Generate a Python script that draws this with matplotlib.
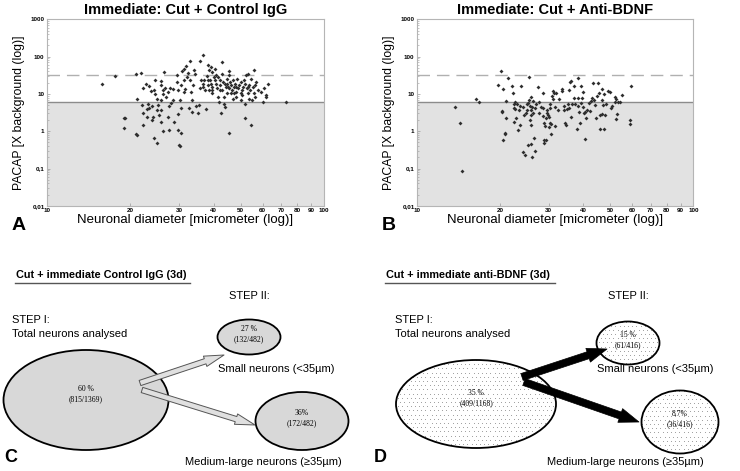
import numpy as np
import matplotlib
matplotlib.use("Agg")
import matplotlib.pyplot as plt
from matplotlib.patches import Ellipse
from matplotlib.ticker import FixedLocator, NullFormatter, FuncFormatter

plt.rcParams['font.family'] = ['Liberation Sans', 'DejaVu Sans']

# panel A : control IgG (diameter um, PACAP x background)
a_diam = [15.8, 17.6, 21, 21.8, 21.1, 22, 19, 19.1, 19, 21, 21.1, 22.3, 22.2, 22.3, 22.8,
          23.3, 23.8, 24.3, 23.4, 23, 23.1, 24, 23, 24, 24.2, 24.6, 24.3, 24.9, 24.6, 25,
          25.2, 25, 25.5, 25.9, 25.9, 26.3, 26.3, 25.9, 25.8, 25.8, 26.3, 26.5, 26.8, 27,
          27.4, 27.8, 27.6, 27.3, 27.5, 28, 28.5, 28.6, 28.8, 29.4, 29.6, 29.8, 29.8, 29.7,
          30, 30.2, 30.2, 30.4, 30.5, 30.5, 30.8, 31.2, 31.2, 31.2, 31.6, 31.9, 32, 32.4,
          32.8, 32.8, 33, 33.3, 32.6, 33.3, 33.7, 34, 34.2, 34.5, 35, 35.3, 35.6, 35.8,
          36.5, 36.6, 37, 37.3, 37.6, 37.8, 38, 38.3, 38.4, 38.6, 38.8, 39, 39, 39.4, 39.6,
          39.6, 40, 40.3, 40.6, 40.8, 41, 41.4, 41.4, 41.8, 42, 42.3, 42.7, 43, 43, 43.2,
          43.5, 43.5, 43.8, 42.6, 44.2, 44.5, 44.7, 44.8, 45.3, 45.3, 45.6, 45.6, 45.8,
          46.2, 46.4, 47, 47, 47.5, 47.8, 48, 48.3, 48.6, 49, 49.5, 50, 50.2, 50.3, 50.6,
          51, 51.3, 51.7, 51.7, 52, 52.5, 52.7, 53, 53.3, 53.5, 53.8, 54.2, 54.4, 54.7, 55,
          55.3, 55.7, 56, 56.5, 57, 58, 59, 60, 60.5, 61.7, 61.7, 63, 72.6,
          35.9, 36.6, 38, 39.3, 40.8, 42, 43.8, 45, 46.2, 48, 53, 50.6, 56.5, 47.5]
a_pacap = [18, 31, 34, 36, 7.5, 5, 2.2, 2.2, 1.25, 0.82, 0.8, 1.5, 3, 14, 19,
           16, 12, 12.6, 4.3, 3.9, 5.5, 4.7, 2.4, 2, 2.4, 24, 0.66, 0.47, 9.8, 7.2,
           5, 3.7, 2.7, 22, 17, 12.6, 10, 6.8, 3.6, 1.75, 1.0, 39, 14.8, 8.3,
           11.3, 14, 4.7, 2.4, 1.07, 5.7, 13.2, 6.8, 1.78, 32, 21, 12.6, 1.06, 2.9,
           0.44, 0.4, 6.8, 4.1, 0.9, 17.2, 41, 48, 23.4, 11.3, 13.2, 57, 28, 36,
           77, 23, 11.3, 6.8, 4.3, 3.3, 17, 43, 34, 4.7, 3, 5, 77, 14,
           19, 112, 23, 12.6, 3.9, 30, 59, 17.2, 43, 12.6, 23, 52, 19, 39, 15.5,
           10.3, 28, 48, 23, 19, 14, 28, 8.3, 6.2, 23, 17, 35, 70, 12.6, 21,
           8.3, 5.5, 4.5, 3, 15.5, 25, 19, 10.3, 41, 0.9, 32, 14, 21,
           17, 12.6, 24, 7.5, 15.5, 19, 11.3, 8.3, 25, 14, 17, 21, 10.3, 6.8, 12.6,
           15.5, 23, 5.5, 2.2, 19, 32, 14, 34, 10.3, 7.5, 17, 12.6, 1.45, 25, 6.8,
           15.5, 43, 10.3, 8.3, 21, 12.6, 11.3, 6.2, 14, 8.3, 9.3, 18, 5.9,
           23, 15.5, 23, 12.6, 32, 12.6, 19, 15.5, 10.3, 15.5, 15.5, 9.3, 17, 10.8]

# panel B : anti-BDNF
b_diam = [13.8, 14.3, 14.6, 16.4, 16.8, 19.7, 20.2, 20.3, 20.3, 20.5, 20.6, 20.8, 20.8, 21,
          21, 21.4, 22.2, 22.3, 22.4, 22.4, 22.5, 22.6, 22.7, 22.9, 23, 23.2, 23.4, 23.6,
          23.8, 23.7, 24.2, 24.3, 24.5, 24.6, 24.8, 25, 25.1, 25.2, 25.3, 25.4, 25.5, 25.7,
          25.7, 25.8, 25.9, 26, 26, 26, 26.1, 26.2, 26.3, 26.4, 26.6, 26.7, 26.8, 27, 27.5,
          27.6, 27.7, 28.2, 28.5, 28.6, 28.8, 28.6, 28.8, 28.9, 29.2, 29.3, 29.4, 29.6, 29.7,
          29.8, 30, 30.1, 30.3, 30.3, 30.4, 30.6, 30.7, 30.8, 31, 31.2, 31.3, 31.6, 31.7,
          31.8, 32.5, 32.8, 33.4, 33.6, 34, 34.2, 34.5, 34.6, 35, 35.2, 35.5, 35.6, 35.8, 36,
          36.2, 36.4, 36.9, 37, 37.3, 37.9, 38.2, 38.2, 38.4, 38.7, 38.9, 39.2, 39.4, 39.6,
          39.9, 40, 40.2, 40.5, 40.5, 41, 41.3, 41.8, 42.3, 42.8, 43.1, 43.3, 43.6, 44, 44.5,
          44.7, 45.2, 45.5, 45.8, 46.1, 46.6, 46.6, 46.8, 47, 47.4, 47.7, 48, 48.2, 49, 49.9,
          50.3, 50.6, 52.3, 52.7, 52.3, 52.7, 53, 53.4, 54.2, 55.3, 59, 59.2, 59.6]
b_pacap = [4.5, 1.7, 0.086, 7.4, 5.9, 17.8, 41, 3.5, 3.3, 13.5, 0.57, 0.9, 0.83, 6.5,
           2.3, 27.5, 15.9, 10.9, 5.5, 4.1, 1.78, 6.2, 3.9, 2.2, 5.3, 1.1, 3.6, 1.45,
           15.9, 4.7, 0.28, 4.5, 2.7, 0.23, 3.0, 5.5, 3.6, 5.7, 0.42, 29, 6.7, 4.7,
           1.95, 3.6, 8.5, 2.7, 1.45, 0.45, 0.21, 4.5, 3.0, 6.5, 0.67, 0.3, 4.1, 5.5, 15.3,
           5.9, 3, 4.5, 2.5, 4.1, 1.7, 10.9, 0.57, 0.48, 1.36, 2.3, 0.57, 3.6, 3.0,
           2.7, 2.4, 1.3, 4.1, 5.5, 1.7, 0.83, 1.6, 9.0, 12.3, 7.5, 10.9, 4.5, 1.36,
           10.4, 3.8, 7.2, 13.3, 12.3, 3.7, 4.7, 1.7, 1.5, 3.9, 5.4, 12.6, 4.1, 21, 22,
           2.4, 5.4, 16.5, 7.8, 5.4, 1.18, 27.5, 7.8, 4.7, 3.3, 1.7, 16.5, 5.8, 8,
           11.4, 4.5, 3.1, 0.6, 3.3, 2.3, 3.6, 5.8, 3.5, 6.5, 8, 20, 6.8, 5.1, 2.3,
           8.7, 20, 10.9, 1.18, 2.7, 13.3, 2.9, 6.8, 5.1, 1.18, 10, 2.7, 5.5, 12.3, 11.4,
           4.3, 4.7, 8.5, 7.5, 6.2, 2.1, 2.9, 6.2, 6.2, 9.5, 1.6, 1.97, 16.5]

bg_level = 5.9      # solid line (background threshold)
upper_level = 31.6  # dashed line

panel_titles = ["Immediate: Cut + Control IgG", "Immediate: Cut + Anti-BDNF"]
x_ticks = [10, 20, 30, 40, 50, 60, 70, 80, 90, 100]
y_ticks = [0.01, 0.1, 1, 10, 100, 1000]
y_tick_labels = ["0,01", "0,1", "1", "10", "100", "1000"]

# diagram texts (panels C and D)
diag_titles = ["Cut + immediate Control IgG (3d)", "Cut + immediate anti-BDNF (3d)"]
big_pct = [("60 %", "(815/1369)"), ("35 %", "(409/1168)")]
small_pct = [("27 %", "(132/482)"), ("15 %", "(61/416)")]
large_pct = [("36%", "(172/482)"), ("8.7%", "(36/416)")]

fig = plt.figure(figsize=(7.4, 4.71), dpi=100)

def scatter_panel(rect, xs, ys, title, letter):
    ax = fig.add_axes(rect)
    ax.set_xscale('log')
    ax.set_yscale('log')
    ax.set_xlim(10, 100)
    ax.set_ylim(0.01, 1000)
    ax.axhspan(0.01, bg_level, color='#e2e2e2', zorder=0, lw=0)
    ax.axhline(bg_level, color='#8c8c8c', lw=1.0, zorder=1)
    ax.axhline(upper_level, color='#b0b0b0', lw=1.0, dashes=(9, 5), zorder=1)
    ax.plot(xs, ys, ls='none', marker='D', ms=2.0, color='#2e2e2e', mew=0, zorder=3)
    for s in ax.spines.values():
        s.set_color('#b5b5b5')
        s.set_linewidth(0.8)
    ax.xaxis.set_major_locator(FixedLocator(x_ticks))
    ax.xaxis.set_minor_locator(FixedLocator([]))
    ax.xaxis.set_major_formatter(FuncFormatter(lambda v, p: "%d" % v))
    ax.xaxis.set_minor_formatter(NullFormatter())
    ax.yaxis.set_major_locator(FixedLocator(y_ticks))
    ax.set_yticklabels(y_tick_labels)
    ax.tick_params(axis='both', which='major', labelsize=4.5, length=2, width=0.5,
                   color='#999999', pad=1.5, direction='in')
    ax.tick_params(axis='y', which='minor', length=1.2, width=0.4, color='#999999',
                   direction='in')
    for lab in ax.get_xticklabels() + ax.get_yticklabels():
        lab.set_fontweight('bold')
    ax.set_xlabel("Neuronal diameter [micrometer (log)]", fontsize=9.5, labelpad=1)
    ax.set_ylabel("PACAP [X background (log)]", fontsize=8.8, labelpad=4)
    ax.set_title(title, fontsize=10.5, fontweight='bold', pad=4)
    fig.text(rect[0] - 0.047, 0.521, letter, fontsize=14, fontweight='bold',
             ha='left', va='center')

scatter_panel([0.063, 0.563, 0.375, 0.396], a_diam, a_pacap, panel_titles[0], "A")
scatter_panel([0.563, 0.563, 0.374, 0.396], b_diam, b_pacap, panel_titles[1], "B")

# overlay in pixel-like coordinates for the flow diagrams
ov = fig.add_axes([0, 0, 1, 1])
ov.set_xlim(0, 740)
ov.set_ylim(471, 0)
ov.axis('off')

def ellipse(cx, cy, w, h, dotted):
    if dotted:
        e = Ellipse((cx, cy), w, h, facecolor='white', edgecolor='none', zorder=2)
        ov.add_patch(e)
        # fine stipple clipped to the ellipse
        gy = np.arange(cy - h / 2, cy + h / 2, 4.2)
        px, py = [], []
        for k, yy in enumerate(gy):
            off = 2.1 if k % 2 else 0.0
            gx = np.arange(cx - w / 2 + off, cx + w / 2, 4.2)
            px.extend(gx)
            py.extend([yy] * len(gx))
        dots = ov.scatter(px, py, s=0.35, color='#8a8a8a', lw=0, zorder=2.5)
        dots.set_clip_path(e)
        ov.add_patch(Ellipse((cx, cy), w, h, fill=False, edgecolor='black', lw=1.3, zorder=3))
    else:
        ov.add_patch(Ellipse((cx, cy), w, h, facecolor='#d8d8d8', edgecolor='black',
                             lw=1.3, zorder=2))

def pct_text(cx, cy, pair, size=5.5):
    ov.text(cx, cy - 5, pair[0], fontsize=size, family='Liberation Serif', ha='center',
            va='center', zorder=4)
    ov.text(cx, cy + 5, pair[1], fontsize=size, family='Liberation Serif', ha='center',
            va='center', zorder=4)

def arrow(x0, y0, x1, y1, solid):
    if solid:
        props = dict(arrowstyle='simple,head_width=0.8,head_length=1.1,tail_width=0.4',
                     fc='black', ec='black', lw=0.5, mutation_scale=13,
                     shrinkA=0, shrinkB=0)
    else:
        props = dict(arrowstyle='simple,head_width=0.6,head_length=1.1,tail_width=0.3',
                     fc='#e0e0e0', ec='#555555', lw=0.7, mutation_scale=13,
                     shrinkA=0, shrinkB=0)
    ov.annotate('', xy=(x1, y1), xytext=(x0, y0), arrowprops=props, zorder=5)

def diagram(dx, i, dotted, big, small, large, arrows, underline_w):
    ov.text(dx + 16, 275, diag_titles[i], fontsize=7.8, fontweight='bold', ha='left',
            va='center')
    ov.plot([dx + 15, dx + 15 + underline_w], [283, 283], color='#555555', lw=1.0)
    ov.text(small[0] - 20, 296, "STEP II:", fontsize=8, ha='left', va='center')
    ov.text(dx + (12 if i == 0 else 25), 320, "STEP I:", fontsize=8, ha='left',
            va='center')
    ov.text(dx + (12 if i == 0 else 25), 334, "Total neurons analysed", fontsize=8,
            ha='left', va='center')
    ellipse(*big, dotted)
    ellipse(*small, dotted)
    ellipse(*large, dotted)
    pct_text(big[0], big[1] - 6, big_pct[i])
    pct_text(small[0], small[1] - 3, small_pct[i])
    pct_text(large[0], large[1] - 3, large_pct[i])
    ov.text(small[0] - 31, 369, "Small neurons (<35\u00b5m)", fontsize=8, ha='left',
            va='center')
    ov.text(large[0] - (117 if i == 0 else 133), 462, "Medium-large neurons (\u226535\u00b5m)",
            fontsize=8, ha='left', va='center')
    for a in arrows:
        arrow(*a, solid=dotted)
    ov.text(dx + 4, 457, "C" if i == 0 else "D", fontsize=13, fontweight='bold',
            ha='left', va='center')

diagram(0, 0, False, (86, 400, 165, 100), (249, 337, 63, 35), (302, 421, 93, 58),
        [(140, 383, 224, 355), (142, 390, 255, 425)], 175)
diagram(370, 1, True, (476, 404, 160, 88), (628, 343, 63, 43), (680, 422, 77, 63),
        [(522, 377, 607, 349), (524, 382, 639, 422)], 170)

fig.savefig("out.png", dpi=100)
